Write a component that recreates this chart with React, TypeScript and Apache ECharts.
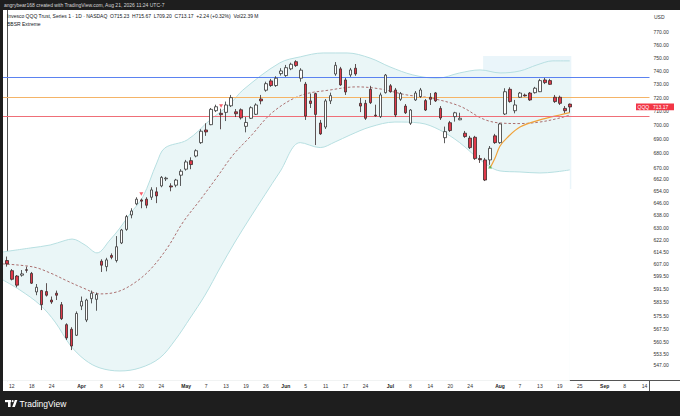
import React, { useEffect, useRef } from "react";
import * as echarts from "echarts";

// ---------- calendar ----------
const FIRST_DAY = "2026-03-11";
const LAST_DAY = "2026-09-18";
const HOLIDAYS = ["2026-04-03", "2026-05-25", "2026-06-19", "2026-07-03", "2026-09-07"];

// ---------- candles (from 2026-03-11 to 2026-08-21) ----------
const opens = [
  609.1, 602.8, 599.5, 600.0, 603.4, 601.1, 589.8, 590.6, 590.0, 584.9,
  589.0, 582.1, 570.3, 567.6, 564.1, 581.3, 573.0, 585.7, 585.3, 608.7,
  605.3, 612.3, 609.1, 620.2, 628.9, 638.3, 645.6, 648.2, 648.7, 650.0,
  653.6, 657.6, 662.4, 657.6, 658.1, 664.9, 669.0, 674.9, 678.1, 687.5,
  696.5, 700.3, 710.4, 708.5, 709.2, 714.0, 709.6, 711.1, 699.1, 704.9,
  707.8, 719.0, 725.5, 732.5, 729.0, 738.0, 736.5, 741.6, 747.1, 734.5,
  730.1, 717.6, 723.0, 701.5, 698.6, 717.6, 737.7, 741.6, 733.2, 737.0,
  742.1, 715.8, 715.8, 726.2, 707.2, 706.1, 723.7, 728.8, 725.7, 718.8,
  713.8, 701.3, 718.3, 720.8, 717.8, 720.3, 723.5, 712.1, 691.0, 701.7,
  706.1, 703.8, 694.2, 690.7, 691.3, 676.3, 675.4, 675.4, 692.3, 687.5,
  708.0, 726.2, 710.4, 720.3, 721.9, 723.4, 723.7, 724.4, 733.2, 732.7,
  720.3, 720.3, 712.1, 715.23,
];
const closes = [
  607.0, 597.5, 593.9, 600.8, 603.0, 595.1, 592.6, 582.1, 587.8, 583.7,
  587.8, 573.8, 562.6, 557.9, 576.9, 584.1, 584.9, 589.0, 588.2, 606.2,
  609.5, 611.1, 617.8, 628.5, 637.2, 640.9, 648.7, 647.4, 644.7, 654.9,
  650.9, 663.4, 662.9, 656.9, 661.6, 667.6, 674.0, 672.2, 681.8, 695.6,
  695.1, 711.4, 713.3, 707.5, 714.6, 720.0, 708.2, 705.2, 701.9, 712.6,
  714.6, 717.6, 730.4, 729.0, 734.5, 740.0, 742.5, 745.1, 744.1, 740.6,
  706.5, 715.7, 707.7, 693.7, 717.6, 721.5, 744.3, 729.5, 724.2, 740.8,
  737.7, 713.8, 704.9, 716.3, 706.7, 722.0, 736.9, 724.4, 707.3, 723.0,
  708.9, 710.9, 723.4, 725.7, 710.9, 718.8, 717.6, 705.1, 695.3, 696.1,
  708.9, 704.9, 691.8, 684.0, 676.3, 675.6, 661.6, 683.5, 687.5, 700.8,
  724.4, 717.1, 714.6, 723.4, 721.3, 718.3, 727.0, 732.7, 731.2, 729.9,
  717.1, 715.8, 710.4, 713.17,
];
const lows = [
  605.3, 596.8, 592.6, 599.1, 601.5, 594.6, 587.8, 578.9, 587.0, 582.6,
  584.9, 573.0, 561.4, 555.6, 563.7, 578.9, 571.8, 582.9, 578.5, 602.0,
  602.4, 609.9, 607.9, 619.5, 628.0, 636.1, 644.7, 642.7, 642.7, 648.2,
  646.1, 656.7, 660.9, 654.0, 656.7, 657.6, 668.0, 669.0, 677.2, 686.6,
  692.3, 699.9, 709.4, 697.0, 702.9, 713.1, 705.8, 704.0, 694.8, 704.4,
  707.3, 715.1, 724.4, 728.0, 728.0, 736.5, 735.5, 740.6, 743.1, 731.9,
  703.7, 712.4, 685.8, 693.0, 697.2, 715.3, 736.3, 728.8, 722.0, 735.5,
  736.3, 709.4, 703.7, 715.3, 706.1, 705.1, 723.0, 723.7, 705.8, 717.6,
  708.0, 700.1, 717.6, 719.8, 710.2, 714.6, 716.8, 703.7, 687.1, 695.1,
  702.5, 703.5, 690.9, 683.0, 675.4, 673.3, 660.9, 672.0, 686.6, 686.6,
  707.3, 716.3, 708.5, 719.8, 720.8, 717.6, 723.0, 724.2, 730.1, 729.5,
  716.1, 714.6, 708.7, 709.2,
];
const highs = [
  611.6, 603.8, 600.1, 603.2, 605.3, 602.0, 594.6, 591.0, 595.1, 587.0,
  590.6, 583.7, 571.1, 568.8, 578.1, 587.0, 585.7, 590.6, 589.4, 609.9,
  610.8, 613.6, 624.6, 629.2, 638.3, 642.7, 650.0, 649.1, 650.0, 656.7,
  656.7, 664.3, 663.8, 659.4, 662.4, 669.0, 675.4, 677.2, 682.8, 697.0,
  701.3, 712.4, 714.8, 711.9, 717.1, 722.0, 711.6, 712.1, 705.8, 713.6,
  715.8, 722.0, 731.9, 734.0, 736.0, 742.1, 744.6, 746.3, 748.2, 742.1,
  731.7, 723.0, 723.7, 703.7, 719.0, 723.7, 746.8, 743.1, 734.7, 742.3,
  745.3, 719.8, 718.3, 728.8, 714.8, 723.7, 737.7, 730.1, 727.2, 724.2,
  715.3, 711.6, 724.9, 727.2, 719.0, 723.4, 724.2, 713.8, 698.9, 703.0,
  709.6, 708.9, 695.8, 692.3, 692.3, 678.8, 676.8, 685.1, 693.7, 701.5,
  727.0, 727.7, 718.3, 724.2, 723.0, 724.2, 728.0, 734.0, 734.7, 734.0,
  722.0, 721.5, 713.8, 715.67,
];

// ---------- Bollinger-type bands (read at sampled trading-day positions) ----------
const upperIdx = [-0.8, 4.7, 8.7, 11.7, 13.1, 15.7, 18.1, 20.7, 22.7, 24.7, 27.3, 30.1, 31.7, 36.2, 40.8, 44.8, 47.4, 54.8, 58.9, 63.5, 68.3, 72.9, 76.9, 81.5, 86.4, 90.9, 95.0, 99.0, 103.0, 106.4, 109.6, 113.0];
const upperBand = [614.5, 617.0, 618.9, 621.8, 622.7, 618.9, 613.9, 622.1, 629.8, 638.9, 650.2, 673.3, 683.7, 689.4, 703.7, 715.3, 725.7, 746.2, 750.8, 753.8, 753.8, 749.9, 743.1, 737.0, 734.5, 738.5, 740.8, 738.5, 740.0, 744.6, 747.7, 747.7];
const lowerIdx = [-0.8, 2.6, 6.7, 9.7, 12.7, 15.7, 18.7, 22.7, 26.7, 30.7, 33.8, 36.8, 39.8, 42.8, 45.8, 48.8, 51.8, 54.8, 58.9, 62.9, 65.9, 68.9, 72.9, 77.9, 82.9, 86.9, 90.9, 95.0, 99.0, 103.0, 107.0, 110.0, 113.0];
const lowerBand = [597.1, 591.0, 581.9, 571.8, 558.5, 550.0, 545.5, 543.8, 545.5, 551.1, 561.4, 574.2, 587.9, 604.5, 620.8, 636.3, 651.6, 667.1, 687.5, 684.0, 688.0, 692.9, 698.6, 702.2, 701.5, 696.5, 687.5, 675.4, 667.8, 667.1, 666.4, 667.1, 668.5];
const basisIdx = [-0.8, 5.3, 8.7, 12.1, 15.3, 18.7, 22.1, 25.3, 28.7, 32.2, 35.4, 38.8, 42.2, 45.4, 48.8, 53.4, 58.9, 64.9, 70.3, 74.9, 80.3, 84.9, 90.9, 95.6, 99.0, 103.0, 107.0, 111.0, 113.0];
const basisLine = [607.0, 605.1, 601.4, 596.5, 592.2, 588.6, 589.8, 594.6, 603.2, 617.0, 633.7, 648.2, 663.6, 678.8, 691.5, 709.4, 721.5, 725.7, 728.0, 726.5, 722.0, 719.8, 713.8, 704.4, 701.5, 701.1, 702.2, 705.1, 707.3];
const vwapIdx = [97, 98, 99, 100.4, 103, 107, 111, 113];
const vwapLine = [669.9, 676.8, 685.1, 690.9, 698.6, 703.7, 707.3, 709.0];

// ---------- signals ----------
const sellIdx = [27, 43];
const sellPrice = [652.2, 713.8];
const buyIdx = [97];
const buyPrice = [670.6];

// ---------- levels ----------
const levelPrices = [732.8, 717.9, 708.4];
const levelColors = ["#5b82f0", "#f5b466", "#ef6f78"];
const lastPrice = 713.17;

// ---------- axes ----------
const yTicks = [770, 760, 750, 740, 730, 720, 710, 700, 690, 680, 670, 662, 654, 646, 638, 630, 622, 614.5, 607, 599.5, 591.5, 583.5, 575.5, 567.5, 560.5, 553.5, 547];
const xTickDates = ["2026-03-12", "2026-03-18", "2026-03-24", "2026-04-01", "2026-04-08", "2026-04-14", "2026-04-20", "2026-04-24", "2026-05-01", "2026-05-07", "2026-05-13", "2026-05-19", "2026-05-26", "2026-06-01", "2026-06-05", "2026-06-11", "2026-06-17", "2026-06-24", "2026-07-01", "2026-07-08", "2026-07-14", "2026-07-20", "2026-07-24", "2026-08-03", "2026-08-07", "2026-08-13", "2026-08-19", "2026-08-25", "2026-09-01", "2026-09-08", "2026-09-14"];
const xTickLabels = ["12", "18", "24", "Apr", "8", "14", "20", "24", "May", "7", "13", "19", "26", "Jun", "5", "11", "17", "24", "Jul", "8", "14", "20", "24", "Aug", "7", "13", "19", "25", "Sep", "8", "14"];
const MONTHS = ["Apr", "May", "Jun", "Jul", "Aug", "Sep"];

const X_MIN = -0.766;
const X_MAX = 129.0;
const Y_MIN = Math.log(538.4);
const Y_MAX = Math.log(787.8);

const FONT = "'Liberation Sans', Arial, sans-serif";

function buildTradingDays(): string[] {
  const out: string[] = [];
  const d = new Date(FIRST_DAY + "T00:00:00Z");
  const end = new Date(LAST_DAY + "T00:00:00Z");
  while (d <= end) {
    const dow = d.getUTCDay();
    const s = d.toISOString().slice(0, 10);
    if (dow !== 0 && dow !== 6 && HOLIDAYS.indexOf(s) < 0) out.push(s);
    d.setUTCDate(d.getUTCDate() + 1);
  }
  return out;
}

export default function App() {
  const ref = useRef<HTMLDivElement>(null);
  useEffect(() => {
    if (!ref.current) return;
    const chart = echarts.init(ref.current, null, { renderer: "svg" });
    const days = buildTradingDays();
    const tickIdx = xTickDates.map((d) => days.indexOf(d));
    const labelMap: Record<string, string> = {};
    tickIdx.forEach((k, j) => {
      const t = xTickLabels[j];
      labelMap[String(k)] = MONTHS.indexOf(t) >= 0 ? "{b|" + t + "}" : t;
    });

    const candles = opens.map((o, k) => [k, Math.log(o), Math.log(closes[k]), Math.log(lows[k]), Math.log(highs[k])]);
    const pts = (idx: number[], vals: number[]) => idx.map((k, j) => [k, Math.log(vals[j])]);

    const levelSeries = levelPrices.map((p, j) => ({
      type: "line",
      z: 4,
      data: [],
      silent: true,
      markLine: {
        silent: true,
        symbol: "none",
        animation: false,
        label: { show: false },
        lineStyle: { color: levelColors[j], width: 1, type: "solid", opacity: 1 },
        data: [{ yAxis: Math.log(p) }],
      },
    }));

    const option: any = {
      animation: false,
      backgroundColor: "#ffffff",
      textStyle: { fontFamily: FONT },
      grid: { left: 3, right: 30.5, top: 10, bottom: 35.3, containLabel: false },
      xAxis: {
        type: "value",
        min: X_MIN,
        max: X_MAX,
        splitLine: { show: false },
        axisLine: { show: true, lineStyle: { color: "#555", width: 1 } },
        axisTick: { show: false },
        axisLabel: {
          customValues: tickIdx,
          formatter: (v: number) => labelMap[String(Math.round(v))] || "",
          fontSize: 5,
          color: "#333",
          margin: 3,
          fontFamily: FONT,
          showMinLabel: true,
          showMaxLabel: true,
          rich: { b: { fontWeight: "bold", fontSize: 5, color: "#222", fontFamily: FONT } },
        },
      },
      yAxis: {
        type: "value",
        position: "right",
        min: Y_MIN,
        max: Y_MAX,
        splitLine: { show: false },
        axisLine: { show: true, lineStyle: { color: "#555", width: 1 } },
        axisTick: { show: false },
        axisLabel: {
          customValues: yTicks.map((p) => Math.log(p)),
          formatter: (v: number) => Math.exp(v).toFixed(2),
          fontSize: 5,
          color: "#333",
          margin: 4,
          showMinLabel: true,
          showMaxLabel: true,
          hideOverlap: false,
          fontFamily: FONT,
        },
      },
      series: [
        {
          type: "line",
          z: 1,
          data: pts(upperIdx, upperBand),
          smooth: 0.35,
          showSymbol: false,
          silent: true,
          lineStyle: { color: "#b7dfe1", width: 1 },
          areaStyle: { color: "#eaf6f7", opacity: 1, origin: "start" },
        },
        {
          type: "line",
          z: 2,
          data: pts(lowerIdx, lowerBand),
          smooth: 0.35,
          showSymbol: false,
          silent: true,
          lineStyle: { color: "#b7dfe1", width: 1 },
          areaStyle: { color: "#ffffff", opacity: 1, origin: "start" },
        },
        {
          type: "line",
          z: 3,
          data: pts(basisIdx, basisLine),
          smooth: 0.35,
          showSymbol: false,
          silent: true,
          lineStyle: { color: "#9a4b4b", width: 0.8, type: [2.5, 2] },
        },
        ...levelSeries,
        {
          type: "line",
          z: 4,
          data: pts(vwapIdx, vwapLine),
          smooth: 0.35,
          showSymbol: false,
          silent: true,
          lineStyle: { color: "#f0a23a", width: 1.2 },
          markArea: {
            silent: true,
            itemStyle: { color: "rgba(140,200,225,0.18)" },
            data: [[{ coord: [95.6, Math.log(751.5)] }, { coord: [113.3, Math.log(655.5)] }]],
          },
        },
        {
          type: "candlestick",
          z: 5,
          data: candles,
          barWidth: 3,
          itemStyle: {
            color: "#ffffff",
            color0: "#e0394a",
            borderColor: "#333333",
            borderColor0: "#3a2a2a",
            borderWidth: 0.8,
          },
        },
        {
          type: "scatter",
          z: 6,
          symbol: "triangle",
          symbolRotate: 180,
          symbolSize: [4, 3.5],
          itemStyle: { color: "#f23645" },
          data: pts(sellIdx, sellPrice),
        },
        {
          type: "scatter",
          z: 6,
          symbol: "triangle",
          symbolSize: [4, 3.5],
          itemStyle: { color: "#4caf50" },
          data: pts(buyIdx, buyPrice),
        },
      ],
    };
    chart.setOption(option);

    const py = chart.convertToPixel({ yAxisIndex: 0 }, Math.log(lastPrice)) as number;

    chart.setOption({
      graphic: [
        { type: "rect", shape: { x: 0, y: 0, width: 680, height: 10 }, style: { fill: "#1e1e1e" }, z: 100 },
        { type: "rect", shape: { x: 0, y: 391, width: 680, height: 25 }, style: { fill: "#1e1e1e" }, z: 100 },
        { type: "rect", shape: { x: 0, y: 0, width: 3, height: 416 }, style: { fill: "#1e1e1e" }, z: 100 },
        { type: "line", shape: { x1: 649.5, y1: 380.5, x2: 680, y2: 380.5 }, style: { stroke: "#555", lineWidth: 1 }, z: 90 },
        { type: "line", shape: { x1: 649.5, y1: 380.5, x2: 649.5, y2: 391 }, style: { stroke: "#555", lineWidth: 1 }, z: 90 },
        {
          type: "text", x: 4, y: 5.3, z: 101,
          style: { text: "angrybear168 created with TradingView.com, Aug 21, 2026 11:24 UTC-7", fill: "#d6d6d6", fontSize: 5, fontFamily: FONT, verticalAlign: "middle" },
        },
        {
          type: "text", x: 7, y: 15.7, z: 101,
          style: { text: "Invesco QQQ Trust, Series 1 · 1D · NASDAQ  O715.23  H715.67  L709.20  C713.17  +2.24 (+0.32%)  Vol22.39 M", fill: "#131722", fontSize: 5, fontFamily: FONT, verticalAlign: "middle" },
        },
        {
          type: "text", x: 7, y: 24, z: 101,
          style: { text: "BBSR Extreme", fill: "#131722", fontSize: 5, fontFamily: FONT, verticalAlign: "middle" },
        },
        {
          type: "text", x: 654, y: 17, z: 101,
          style: { text: "USD", fill: "#333", fontSize: 5, fontFamily: FONT, verticalAlign: "middle" },
        },
        { type: "rect", shape: { x: 636, y: py - 3.4, width: 38, height: 6.8 }, style: { fill: "#f23645" }, z: 95 },
        {
          type: "text", x: 637.5, y: py, z: 96,
          style: { text: "QQQ", fill: "#ffffff", fontSize: 5, fontFamily: FONT, verticalAlign: "middle" },
        },
        {
          type: "text", x: 653, y: py, z: 96,
          style: { text: lastPrice.toFixed(2), fill: "#ffffff", fontSize: 5, fontFamily: FONT, verticalAlign: "middle" },
        },
        // TradingView logo
        { type: "rect", shape: { x: 5, y: 400, width: 6, height: 2.2 }, style: { fill: "#ffffff" }, z: 101 },
        { type: "rect", shape: { x: 8, y: 400, width: 2.6, height: 7 }, style: { fill: "#ffffff" }, z: 101 },
        { type: "circle", shape: { cx: 12.6, cy: 401.1, r: 1.1 }, style: { fill: "#ffffff" }, z: 101 },
        { type: "polygon", shape: { points: [[12.2, 407], [14.8, 400], [17.4, 400], [14.8, 407]] }, style: { fill: "#ffffff" }, z: 101 },
        {
          type: "text", x: 19.5, y: 403.5, z: 101,
          style: { text: "TradingView", fill: "#ffffff", fontSize: 8.5, fontWeight: 500, fontFamily: FONT, verticalAlign: "middle" },
        },
      ],
    });

    return () => chart.dispose();
  }, []);
  return <div ref={ref} style={{ position: "fixed", left: 0, top: 0, width: 680, height: 416 }} />;
}
